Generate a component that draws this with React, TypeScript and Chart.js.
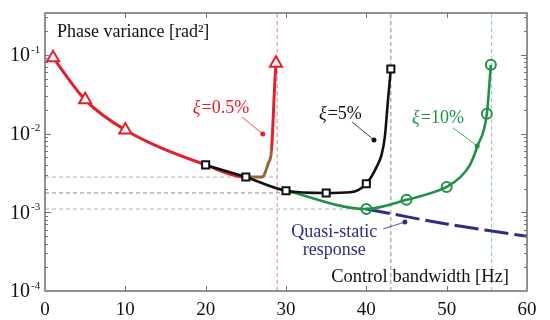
import React, { useEffect, useRef } from "react";
import { Chart, registerables } from "chart.js";

Chart.register(...registerables);

// ---------- data ----------
const redX = [1, 5, 10, 20, 25, 27.0, 27.8, 28.2, 28.6, 28.75];
const redY = [0.092, 0.0268, 0.0111, 0.004, 0.0028, 0.0028, 0.0042, 0.0062, 0.0436, 0.078];
const redMarked = [1, 1, 1, 0, 0, 0, 0, 0, 0, 1];

const blackX = [20, 25, 30, 35, 38, 40, 41.3, 41.9, 42.3, 42.7, 43.05];
const blackY = [0.004, 0.0028, 0.00188, 0.00176, 0.0018, 0.0023, 0.0038, 0.0054, 0.009, 0.027, 0.066];
const blackMarked = [1, 1, 1, 1, 0, 1, 0, 0, 0, 0, 1];

const greenX = [30, 40, 45, 50, 51.7, 52.9, 53.8, 55, 55.5];
const greenY = [0.00188, 0.0011, 0.00144, 0.0021, 0.0028, 0.004, 0.0068, 0.0178, 0.0746];
const greenMarked = [0, 1, 1, 1, 0, 0, 0, 1, 1];

const quasiX = [40, 50, 60];
const quasiY = [0.0011, 0.00071, 0.000495];

const limitX = [28.9, 43.05, 55.6];
const floorY = [0.0028, 0.00176, 0.0011];
const floorEndX = [28.9, 35, 40];

const xMin = 0;
const xMax = 60;
const yMin = 1e-4;
const yMax = 0.34;
const xTicks = [0, 10, 20, 30, 40, 50, 60];
const yTicks = [1e-4, 1e-3, 1e-2, 1e-1];
const yTickBase = "10";
const yTickExp = ["-4", "-3", "-2", "-1"];

// annotation anchors in data units
const zetaLabels = ["=0.5%", "=5%", "=10%"];
const zetaTextX = [18.4, 34.1, 45.7];
const zetaTextY = [0.0212, 0.0178, 0.0158];
const zetaFromX = [24.5, 38.2, 50.8];
const zetaFromY = [0.0163, 0.0141, 0.0118];
const zetaDotX = [27.1, 40.95, 53.8];
const zetaDotY = [0.0099, 0.0083, 0.00697];

// ---------- styles ----------
const RED = "#e3202a";
const BROWN = "#8f6a3c";
const BLACK = "#111111";
const GREEN = "#1f9146";
const NAVY = "#2e2d80";
const FONT = '"Liberation Serif", "Times New Roman", serif';
const zetaColors = [RED, BLACK, GREEN];
const limitColors = ["#e77d86", "#8a8a8a", "#86c9a6"];
const floorColors = ["#c4a6a6", "#8a8a8a", "#9cc4a2"];

const pts = (xs: number[], ys: number[]) => xs.map((x, i) => ({ x, y: ys[i] }));

const framePlugin = {
  id: "frame",
  afterDatasetsDraw(chart: any) {
    const { ctx, chartArea: a, scales } = chart;
    const xs = scales.x;
    const ys = scales.y;
    ctx.save();
    // ticks
    ctx.strokeStyle = "#777";
    ctx.lineWidth = 1;
    ctx.beginPath();
    xTicks.forEach((t) => {
      if (t === xMin || t === xMax) return;
      const px = Math.round(xs.getPixelForValue(t)) + 0.5;
      ctx.moveTo(px, a.bottom);
      ctx.lineTo(px, a.bottom - 5);
      ctx.moveTo(px, a.top);
      ctx.lineTo(px, a.top + 5);
    });
    for (let d = -4; d <= 0; d++) {
      for (let m = 1; m <= 9; m++) {
        const v = m * Math.pow(10, d);
        if (v <= yMin || v >= yMax) continue;
        const py = Math.round(ys.getPixelForValue(v)) + 0.5;
        const len = m === 1 ? 6 : 3;
        ctx.moveTo(a.left, py);
        ctx.lineTo(a.left + len, py);
        ctx.moveTo(a.right, py);
        ctx.lineTo(a.right - len, py);
      }
    }
    ctx.stroke();
    // frame
    ctx.strokeStyle = "#6e6e6e";
    ctx.lineWidth = 1.5;
    ctx.strokeRect(a.left, a.top, a.right - a.left, a.bottom - a.top);

    // y tick labels: 10 with superscript exponent
    ctx.fillStyle = "#111";
    yTicks.forEach((t, i) => {
      const py = ys.getPixelForValue(t);
      ctx.textBaseline = "middle";
      ctx.textAlign = "right";
      ctx.font = `20px ${FONT}`;
      ctx.fillText(yTickBase, a.left - 15, py + 1);
      ctx.textAlign = "left";
      ctx.font = `11px ${FONT}`;
      ctx.fillText(yTickExp[i], a.left - 14, py - 5);
    });

    // axis titles inside plot
    ctx.fillStyle = "#111";
    ctx.textBaseline = "middle";
    ctx.textAlign = "left";
    ctx.font = `18px ${FONT}`;
    ctx.fillText("Phase variance [rad²]", a.left + 12, a.top + 19);
    ctx.textAlign = "right";
    ctx.font = `18.5px ${FONT}`;
    ctx.fillText("Control bandwidth [Hz]", a.right - 18, a.bottom - 14);

    // zeta annotations
    zetaLabels.forEach((lab, i) => {
      const c = zetaColors[i];
      const tx = xs.getPixelForValue(zetaTextX[i]);
      const ty = ys.getPixelForValue(zetaTextY[i]);
      ctx.fillStyle = c;
      ctx.textAlign = "left";
      ctx.font = `italic 18px ${FONT}`;
      ctx.fillText("ξ", tx, ty);
      const w = ctx.measureText("ξ").width;
      ctx.font = `18px ${FONT}`;
      ctx.fillText(lab, tx + w + 1, ty);
      const fx = xs.getPixelForValue(zetaFromX[i]);
      const fy = ys.getPixelForValue(zetaFromY[i]);
      const dx = xs.getPixelForValue(zetaDotX[i]);
      const dy = ys.getPixelForValue(zetaDotY[i]);
      ctx.strokeStyle = c;
      ctx.lineWidth = 0.8;
      ctx.beginPath();
      ctx.moveTo(fx, fy);
      ctx.lineTo(dx, dy);
      ctx.stroke();
      ctx.beginPath();
      ctx.arc(dx, dy, 2.5, 0, Math.PI * 2);
      ctx.fill();
    });

    // quasi-static annotation
    ctx.fillStyle = NAVY;
    ctx.textAlign = "center";
    ctx.font = `18px ${FONT}`;
    const qx = xs.getPixelForValue(36);
    ctx.fillText("Quasi-static", qx, ys.getPixelForValue(0.00056));
    ctx.fillText("response", qx, ys.getPixelForValue(0.000332));
    ctx.strokeStyle = NAVY;
    ctx.lineWidth = 0.8;
    ctx.beginPath();
    ctx.moveTo(xs.getPixelForValue(42.1), ys.getPixelForValue(0.000614));
    ctx.lineTo(xs.getPixelForValue(44.8), ys.getPixelForValue(0.000753));
    ctx.stroke();
    ctx.beginPath();
    ctx.arc(xs.getPixelForValue(44.8), ys.getPixelForValue(0.000753), 2.5, 0, Math.PI * 2);
    ctx.fill();
    ctx.restore();
  },
};

export default function App() {
  const ref = useRef<HTMLCanvasElement | null>(null);

  useEffect(() => {
    if (!ref.current) return;
    const refLines: any[] = [];
    limitX.forEach((x, i) =>
      refLines.push({
        type: "line",
        data: [
          { x, y: yMin },
          { x, y: yMax },
        ],
        borderColor: limitColors[i],
        borderWidth: 1,
        borderDash: [4, 3],
        pointRadius: 0,
        order: 10,
      })
    );
    floorY.forEach((y, i) =>
      refLines.push({
        type: "line",
        data: [
          { x: xMin, y },
          { x: floorEndX[i], y },
        ],
        borderColor: floorColors[i],
        borderWidth: 1,
        borderDash: [4, 3],
        pointRadius: 0,
        order: 10,
      })
    );

    const chart = new Chart(ref.current, {
      type: "line",
      data: {
        datasets: [
          ...refLines,
          {
            label: "Quasi-static",
            data: pts(quasiX, quasiY),
            borderColor: NAVY,
            borderWidth: 3,
            borderDash: [24, 6],
            pointRadius: 0,
            tension: 0.3,
            order: 5,
          },
          {
            label: "ξ=0.5%",
            data: pts(redX, redY),
            borderColor: RED,
            borderWidth: 3,
            cubicInterpolationMode: "monotone",
            segment: {
              borderColor: (c: any) =>
                c.p0.parsed.x >= 25 && c.p1.parsed.x <= 28.25 ? BROWN : RED,
            },
            pointStyle: "triangle",
            pointRadius: redMarked.map((m) => (m ? 7 : 0)),
            pointBorderWidth: 2,
            pointBorderColor: RED,
            pointBackgroundColor: "#fff",
            order: 4,
          },
          {
            label: "ξ=10%",
            data: pts(greenX, greenY),
            borderColor: GREEN,
            borderWidth: 2.6,
            cubicInterpolationMode: "monotone",
            pointStyle: "circle",
            pointRadius: greenMarked.map((m) => (m ? 5 : 0)),
            pointBorderWidth: 2,
            pointBorderColor: GREEN,
            pointBackgroundColor: "rgba(255,255,255,0)",
            order: 3,
          },
          {
            label: "ξ=5%",
            data: pts(blackX, blackY),
            borderColor: BLACK,
            borderWidth: 2.6,
            cubicInterpolationMode: "monotone",
            pointStyle: "rect",
            pointRadius: blackMarked.map((m) => (m ? 5 : 0)),
            pointBorderWidth: 2,
            pointBorderColor: BLACK,
            pointBackgroundColor: "#fff",
            order: 2,
          },
        ],
      },
      options: {
        animation: false,
        responsive: false,
        devicePixelRatio: 1,
        layout: { padding: { top: 13, right: 23, left: 0, bottom: 0 } },
        plugins: { legend: { display: false }, tooltip: { enabled: false } },
        scales: {
          x: {
            type: "linear",
            min: xMin,
            max: xMax,
            afterBuildTicks: (s: any) => {
              s.ticks = xTicks.map((v) => ({ value: v }));
            },
            ticks: {
              color: "#111",
              font: { family: FONT, size: 19 },
              padding: 8,
              maxRotation: 0,
            },
            grid: { display: false, drawTicks: false },
            border: { display: false },
            afterFit: (s: any) => {
              s.height = 29;
            },
          },
          y: {
            type: "logarithmic",
            min: yMin,
            max: yMax,
            afterBuildTicks: (s: any) => {
              s.ticks = yTicks.map((v) => ({ value: v }));
            },
            ticks: { display: false },
            grid: { display: false, drawTicks: false },
            border: { display: false },
            afterFit: (s: any) => {
              s.width = 45;
            },
          },
        },
      } as any,
      plugins: [framePlugin],
    });
    return () => chart.destroy();
  }, []);

  return (
    <div style={{ position: "fixed", left: 0, top: 0, width: 550, height: 320, background: "#fff" }}>
      <canvas ref={ref} width={550} height={320} />
    </div>
  );
}
